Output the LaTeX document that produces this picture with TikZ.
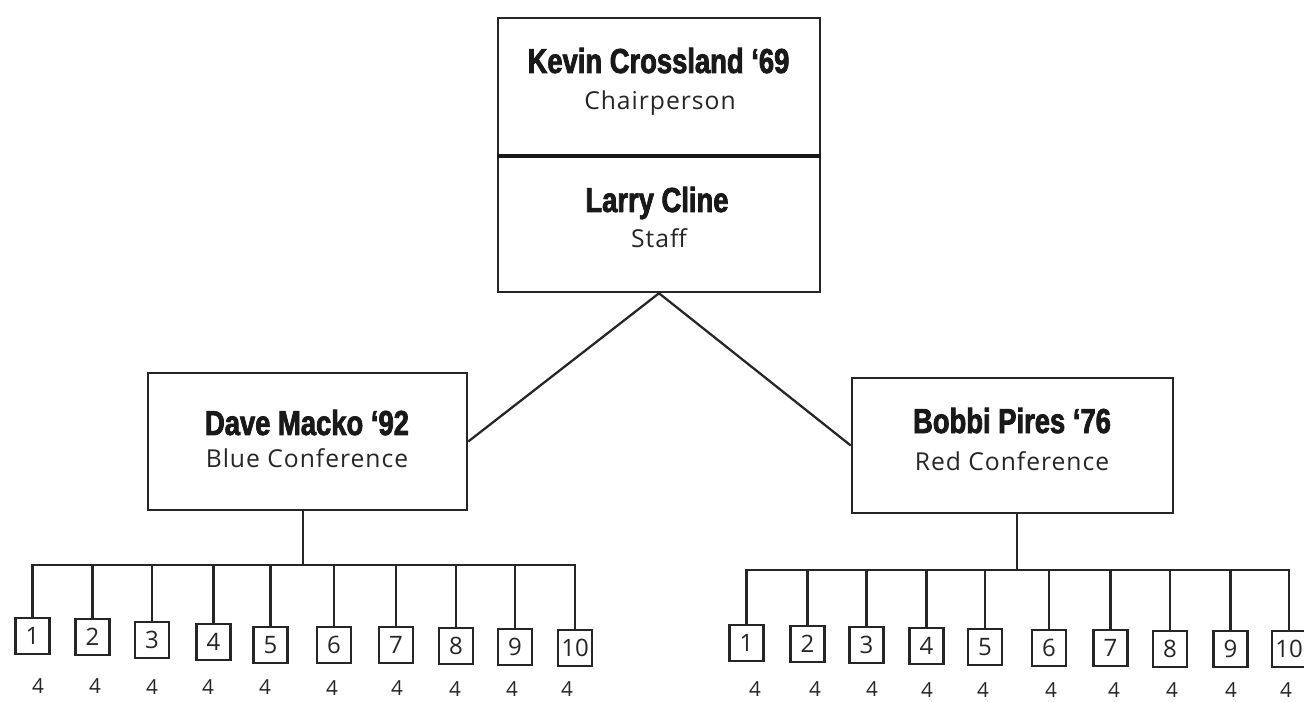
\documentclass[tikz,border=0pt]{standalone}
\usepackage{fontspec}
\setmainfont{Open Sans}
\newfontfamily\namefont[UprightFont={* Bold},FakeStretch=0.79,FakeBold=2.2]{Liberation Sans}
\newfontfamily\subfont[LetterSpace=4]{Open Sans}
\newfontfamily\numfont{Open Sans}
\begin{document}
\begin{tikzpicture}[x=0.75pt,y=-0.75pt,
  frame/.style={draw=black!85,line width=1.9pt,inner sep=0pt},
  conn/.style={draw=black!85,line width=1.7pt},
  nametext/.style={anchor=base,inner sep=0pt,font=\namefont\fontsize{26}{30}\selectfont,text=black!90},
  subtext/.style={anchor=base,inner sep=0pt,font=\subfont\fontsize{18.5}{22}\selectfont,text=black!85},
  cbox/.style={draw=black!85,line width=1.7pt,inner sep=0pt,minimum width=25.5pt,minimum height=27.5pt,font=\numfont\fontsize{18}{21}\selectfont,text=black!85},
  lab/.style={anchor=base,inner sep=0pt,font=\numfont\fontsize{15.5}{18}\selectfont,text=black!85}]
\useasboundingbox (0,0) rectangle (1304,702);
\fill[white] (0,0) rectangle (1304,702);
% top boxes
\node[frame,minimum width=241.5pt,minimum height=102.75pt] (chair) at (659,86.5) {};
\node[frame,minimum width=241.5pt,minimum height=102.75pt] (staff) at (659,223.5) {};
\draw[draw=black!90,line width=2.8pt] (chair.south west) -- (chair.south east);
\node[nametext] (chairname) at (658.5,73) {Kevin Crossland ‘69};
\node[subtext] (chairrole) at (660,110) {Chairperson};
\node[nametext] (staffname) at (657,212) {Larry Cline};
\node[subtext] (staffrole) at (659,248) {Staff};
% conference boxes
\node[frame,minimum width=239.25pt,minimum height=102.75pt] (lbox) at (307.5,441.5) {};
\node[frame,minimum width=240.75pt,minimum height=101.25pt] (rbox) at (1012.5,445.5) {};
\node[nametext] (lname) at (307,435) {Dave Macko ‘92};
\node[subtext] (lrole) at (307,467) {Blue Conference};
\node[nametext] (rname) at (1012,433) {Bobbi Pires ‘76};
\node[subtext] (rrole) at (1012,470) {Red Conference};
\draw[conn] (lbox.east) -- (staff.south) -- (rbox.west);
% left tree
\coordinate (lbar) at (303,565);
\foreach \i/\x/\t/\lx/\ly in {1/32.5/617/38/693,2/92.5/618/95/693,3/152/621/152/694,4/213.5/623/208/694,5/270.5/626/265/694,6/334/626/332/695,7/396/626/397/695,8/456/627/455/696,9/515/628/512/696,10/575/629/567/696}{
  \node[cbox] (lc\i) at (\x,\t+19) {\i};
  \node[lab] (ll\i) at (\lx,\ly) {4};
}
\draw[conn] (lbox.south -| lbar) -- (lbar);
\draw[conn] (lc1.north) |- (lc10.north |- lbar) -- (lc10.north);
\foreach \i in {2,...,9}{\draw[conn] (lc\i.north) -- (lc\i.north |- lbar);}
% right tree
\coordinate (rbar) at (1017,570);
\foreach \i/\x/\t/\lx/\ly in {1/746.5/624/755/696,2/807.5/625/815/696,3/866.5/626/872/696,4/926.5/627/927/697,5/985/628/983/697,6/1049/629/1051/697,7/1110.5/629/1114/697,8/1170/630/1172/697,9/1230.5/630/1231/697,10/1289/630/1286/697}{
  \node[cbox] (rc\i) at (\x,\t+19) {\i};
  \node[lab] (rl\i) at (\lx,\ly) {4};
}
\draw[conn] (rbox.south -| rbar) -- (rbar);
\draw[conn] (rc1.north) |- (rc10.north |- rbar) -- (rc10.north);
\foreach \i in {2,...,9}{\draw[conn] (rc\i.north) -- (rc\i.north |- rbar);}
\end{tikzpicture}
\end{document}
